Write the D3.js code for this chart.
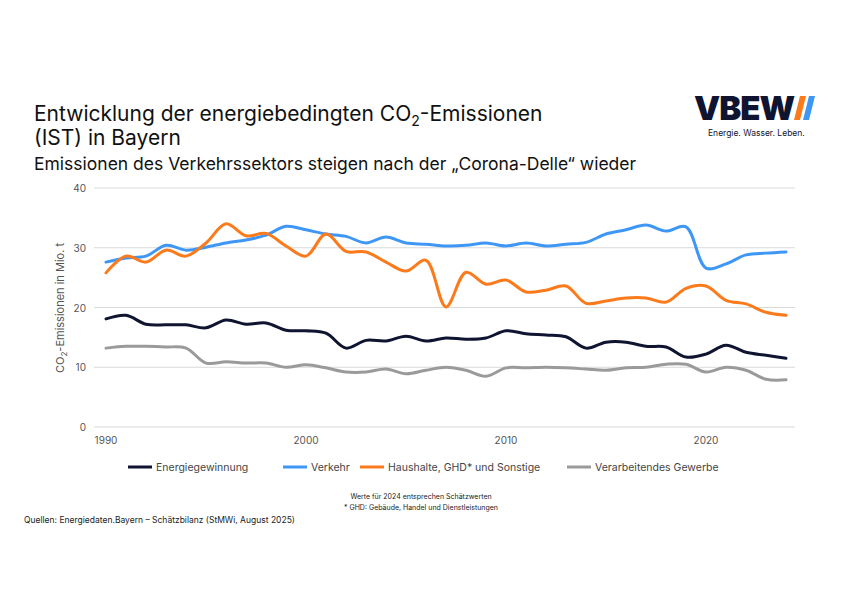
<!DOCTYPE html>
<html><head><meta charset="utf-8">
<script src="https://cdn.jsdelivr.net/npm/d3@7"></script>
<style>body{margin:0;background:#fff;font-family:Inter,"Noto Sans",sans-serif}</style>
</head><body>
<script>
var years = d3.range(1990, 2025);
var energie = [18.1,18.7,17.2,17.1,17.1,16.6,17.9,17.2,17.4,16.2,16.1,15.7,13.2,14.5,14.4,15.2,14.4,14.9,14.7,14.9,16.1,15.6,15.4,15.1,13.2,14.2,14.2,13.5,13.4,11.7,12.2,13.7,12.5,12.0,11.5];
var verkehr = [27.6,28.3,28.6,30.4,29.6,30.1,30.8,31.3,32.1,33.6,33.0,32.3,31.9,30.8,31.8,30.8,30.6,30.3,30.4,30.8,30.3,30.8,30.3,30.6,30.9,32.3,33.0,33.8,32.8,33.5,26.6,27.3,28.8,29.1,29.3];
var haushalte = [25.8,28.6,27.6,29.6,28.6,30.8,34.0,32.0,32.4,30.3,28.6,32.3,29.4,29.3,27.6,26.1,27.9,20.1,25.9,23.9,24.6,22.6,22.9,23.6,20.7,21.1,21.6,21.6,20.9,23.2,23.6,21.2,20.6,19.2,18.7];
var gewerbe = [13.2,13.5,13.5,13.4,13.2,10.7,10.9,10.7,10.7,10.0,10.4,9.9,9.2,9.2,9.7,8.9,9.5,10.0,9.5,8.5,9.9,9.9,10.0,9.9,9.7,9.5,9.9,10.0,10.5,10.5,9.2,10.0,9.5,8.0,7.9];
var seriesNames = ["Energiegewinnung","Verkehr","Haushalte, GHD* und Sonstige","Verarbeitendes Gewerbe"];
var seriesData = [energie, verkehr, haushalte, gewerbe];
var colors = ["#0f1430","#3f97f5","#fb7a1c","#9a9a9a"];
var yTicks = [0,10,20,30,40];
var xTicks = [1990,2000,2010,2020];

var svg = d3.select("body").append("svg").attr("width",842).attr("height",595);
var x = d3.scaleLinear().domain([1990,2020]).range([106,706]);
var y = d3.scaleLinear().domain([0,40]).range([427,188]);

svg.append("text").attr("x",34).attr("y",121).attr("font-size",21).attr("fill","#111")
  .html('Entwicklung der energiebedingten CO<tspan font-size="14" dy="5">2</tspan><tspan dy="-5">-Emissionen</tspan>');
svg.append("text").attr("x",34).attr("y",145).attr("font-size",21).attr("fill","#111").text("(IST) in Bayern");
svg.append("text").attr("x",34).attr("y",170).attr("font-size",17.5).attr("fill","#111").text("Emissionen des Verkehrssektors steigen nach der „Corona-Delle“ wieder");

// logo
svg.append("text").attr("x",694).attr("y",120).attr("font-size",33).attr("font-weight",900).attr("fill","#0f1430").attr("letter-spacing",-1).text("VBEW");
svg.append("path").attr("d","M800,96 L806,96 L800,120 L794,120Z").attr("fill","#fb7a1c");
svg.append("path").attr("d","M809,96 L815,96 L809,120 L803,120Z").attr("fill","#3f97f5");
svg.append("text").attr("x",708).attr("y",136).attr("font-size",8.5).attr("fill","#0f1430").text("Energie. Wasser. Leben.");

svg.append("g").selectAll("line").data(yTicks).join("line")
  .attr("x1",94).attr("x2",795).attr("y1",d=>y(d)).attr("y2",d=>y(d)).attr("stroke","#d9d9d9").attr("stroke-width",1);
svg.append("g").selectAll("text").data(yTicks).join("text")
  .attr("x",86).attr("y",d=>y(d)+4).attr("text-anchor","end").attr("font-size",10).attr("fill","#555").text(d=>d);
svg.append("g").selectAll("text").data(xTicks).join("text")
  .attr("x",d=>x(d)).attr("y",444).attr("text-anchor","middle").attr("font-size",10).attr("fill","#555").text(d=>d);
svg.append("text").attr("transform","translate(64,308) rotate(-90)").attr("text-anchor","middle").attr("font-size",11).attr("fill","#555")
  .html('CO<tspan font-size="8" dy="3">2</tspan><tspan dy="-3">-Emissionen in Mio. t</tspan>');

var line = d3.line().x((d,i)=>x(years[i])).y(d=>y(d)).curve(d3.curveCatmullRom.alpha(0.5));
svg.append("g").selectAll("path").data(seriesData).join("path")
  .attr("d",line).attr("fill","none").attr("stroke",(d,i)=>colors[i]).attr("stroke-width",3).attr("stroke-linecap","round");

var lx = [128,283,360,567];
var lg = svg.append("g").selectAll("g").data(seriesNames).join("g").attr("transform",(d,i)=>"translate("+lx[i]+",467)");
lg.append("line").attr("x1",0).attr("x2",24).attr("stroke",(d,i)=>colors[i]).attr("stroke-width",3);
lg.append("text").attr("x",28).attr("y",3.5).attr("font-size",10.5).attr("fill","#444").text(d=>d);

svg.append("text").attr("x",421).attr("y",499).attr("text-anchor","middle").attr("font-size",7).attr("fill","#222").text("Werte für 2024 entsprechen Schätzwerten");
svg.append("text").attr("x",421).attr("y",510).attr("text-anchor","middle").attr("font-size",7).attr("fill","#222").text("* GHD: Gebäude, Handel und Dienstleistungen");
svg.append("text").attr("x",24).attr("y",523).attr("font-size",8.5).attr("fill","#222").text("Quellen:  Energiedaten.Bayern – Schätzbilanz (StMWi, August 2025)");
</script>
</body></html>
